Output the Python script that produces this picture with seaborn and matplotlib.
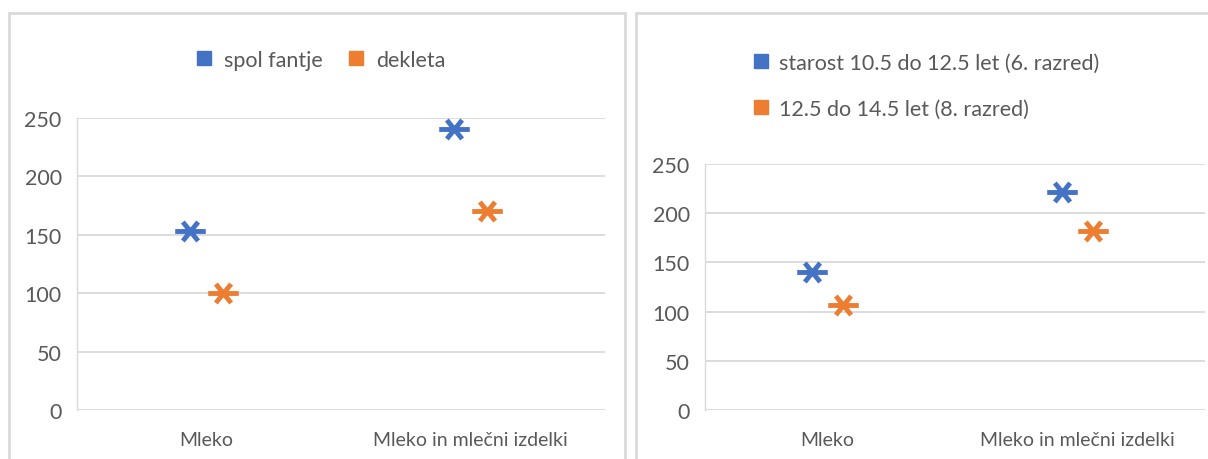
import numpy as np
import pandas as pd
import seaborn as sns
import matplotlib
matplotlib.use("Agg")
import matplotlib.pyplot as plt
from matplotlib.path import Path
from matplotlib.lines import Line2D
from matplotlib.patches import Rectangle

# Data
categories = ["Mleko", "Mleko in mlečni izdelki"]
spol_labels = ["spol fantje", "dekleta"]
fantje = [153, 241]
dekleta = [100, 170]
starost_labels = ["starost 10.5 do 12.5 let (6. razred)", "12.5 do 14.5 let (8. razred)"]
razred6 = [140, 222]
razred8 = [107, 182]
yticks = [0, 50, 100, 150, 200, 250]

BLUE = "#4472C4"
ORANGE = "#ED7D31"
TEXT = "#595959"
GRID = "#D9D9D9"

sns.set_theme(style="white")
plt.rcParams["font.family"] = ["Lato", "DejaVu Sans"]


def long_table(labels, series):
    rows = []
    for lab, vals in zip(labels, series):
        for cat, v in zip(categories, vals):
            rows.append({"kategorija": cat, "skupina": lab, "vrednost": v})
    return pd.DataFrame(rows)


# Six-armed asterisk: a horizontal bar crossed by two steep diagonals
star = Path(
    [(-1, 0), (1, 0), (-0.5, -0.62), (0.5, 0.62), (-0.5, 0.62), (0.5, -0.62)],
    [Path.MOVETO, Path.LINETO, Path.MOVETO, Path.LINETO, Path.MOVETO, Path.LINETO],
)

fig = plt.figure(figsize=(12.08, 4.6), dpi=100)

# Chart frames
for x0, x1 in [(9, 625), (636, 1215)]:
    fig.patches.append(Rectangle((x0 / 1208, -0.1), (x1 - x0) / 1208, 1.1 - 14 / 460,
                                 transform=fig.transFigure, fill=False,
                                 edgecolor=GRID, linewidth=2))

ax1 = fig.add_axes([77 / 1208, 49 / 460, 528 / 1208, 292 / 460])
ax2 = fig.add_axes([705 / 1208, 49 / 460, 500 / 1208, 246 / 460])


def draw(ax, df, labels):
    sns.pointplot(data=df, x="kategorija", y="vrednost", hue="skupina",
                  hue_order=labels, order=categories,
                  palette=[BLUE, ORANGE], markers=[star, star],
                  linestyle="none", dodge=0.125, errorbar=None,
                  markersize=22, markeredgewidth=3.5, legend=False, ax=ax)
    ax.set_xlim(-0.49, 1.51)
    ax.set_ylim(0, 250)
    ax.set_yticks(yticks)
    ax.set_xlabel("")
    ax.set_ylabel("")
    ax.grid(axis="y", color=GRID, linewidth=1.3)
    ax.set_axisbelow(True)
    for s in ["top", "right", "bottom"]:
        ax.spines[s].set_visible(False)
    ax.spines["left"].set_color(GRID)
    ax.spines["left"].set_linewidth(1.0)
    ax.tick_params(axis="y", length=0, pad=11, labelsize=15.5, labelcolor=TEXT)
    ax.tick_params(axis="x", length=0, pad=15, labelsize=14, labelcolor=TEXT)


draw(ax1, long_table(spol_labels, [fantje, dekleta]), spol_labels)
draw(ax2, long_table(starost_labels, [razred6, razred8]), starost_labels)


def handles():
    return [Line2D([], [], linestyle="none", marker="s", markersize=10,
                   markerfacecolor=c, markeredgecolor=c) for c in (BLUE, ORANGE)]


fig.legend(handles(), spol_labels, loc="center", ncol=2,
           bbox_to_anchor=(321 / 1208, 1 - 61 / 460), frameon=False,
           fontsize=15.5, labelcolor=TEXT, handlelength=0.7,
           handletextpad=0.6, columnspacing=1.2)
fig.legend(handles(), starost_labels, loc="upper left", ncol=1,
           bbox_to_anchor=(745 / 1208, 1 - 45 / 460), frameon=False,
           fontsize=15.5, labelcolor=TEXT, handlelength=0.7,
           handletextpad=0.5, labelspacing=1.2, borderaxespad=0)

fig.savefig("out.png", dpi=100, facecolor="white")
